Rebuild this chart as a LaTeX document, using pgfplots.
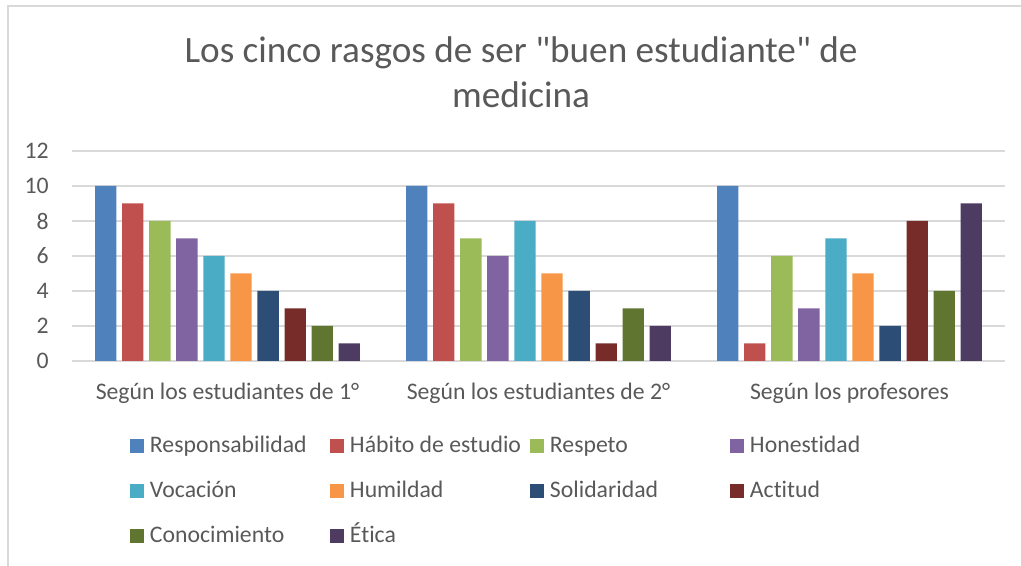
\documentclass[border=0pt]{standalone}
\usepackage{fontspec}
\setmainfont{Carlito}[Ligatures=NoCommon]
\newfontfamily\titlefont{Carlito}[Ligatures={TeXOff,NoCommon}]
\usepackage{pgfplots}
\pgfplotsset{compat=1.18}
\definecolor{txt}{HTML}{595959}
\definecolor{gridc}{HTML}{D9D9D9}
\definecolor{c1}{HTML}{4F81BD}
\definecolor{c2}{HTML}{C0504D}
\definecolor{c3}{HTML}{9BBB59}
\definecolor{c4}{HTML}{8064A2}
\definecolor{c5}{HTML}{4BACC6}
\definecolor{c6}{HTML}{F79646}
\definecolor{c7}{HTML}{2C4D75}
\definecolor{c8}{HTML}{772C2A}
\definecolor{c9}{HTML}{5F7530}
\definecolor{c10}{HTML}{4D3B62}
\pgfplotsset{ybar legend/.style={legend image code/.code={\fill[##1,draw=none] (0pt,-9pt) rectangle (10.5pt,1.5pt); \path (15pt,0pt);}}}
\newcommand{\lgent}[1]{\makebox[135pt][l]{\rule[-6pt]{0pt}{24pt}#1}}
\begin{document}
\begin{tikzpicture}
\useasboundingbox (-54pt,-153.75pt) rectangle (711.75pt,270.75pt);
\draw[gridc, line width=1.5pt] (-48pt,-160pt) -- (-48pt,266.25pt) -- (720pt,266.25pt);
\begin{axis}[
  at={(0,0)}, anchor=south west,
  scale only axis, width=699.75pt, height=157.5pt,
  xmin=-0.5, xmax=2.5, ymin=0, ymax=12,
  ytick={0,2,...,12}, xtick={0,1,2},
  xticklabels={Según los estudiantes de 1°, Según los estudiantes de 2°, Según los profesores},
  major tick length=0pt,
  ymajorgrids, grid style={gridc, line width=1pt},
  axis x line*=bottom, axis y line*=left,
  x axis line style={gridc, line width=1pt, -},
  y axis line style={draw=none},
  /pgf/number format/assume math mode=true,
  tick label style={font=\fontsize{17.8}{20}\selectfont, text=txt, inner sep=0pt},
  yticklabel style={anchor=east, xshift=-17.25pt},
  xticklabel style={anchor=base, yshift=-29.25pt},
  ybar, bar width=16pt,
  legend columns=4,
  legend cell align=left,
  legend style={draw=none, fill=none, inner sep=0pt, outer sep=0pt, column sep=0pt, row sep=14.25pt,
    font=\fontsize{17.8}{20}\selectfont, text=txt,
    at={(axis description cs:0.06217,-0.3195)}, anchor=north west, nodes={inner sep=0pt}},
]
\addplot[fill=c1, draw=none, bar shift=-91.35pt] coordinates {(0,10) (1,10) (2,10)};
\addlegendentry{\lgent{Responsabilidad}}
\addplot[fill=c2, draw=none, bar shift=-71.05pt] coordinates {(0,9) (1,9) (2,1)};
\addlegendentry{\lgent{Hábito de estudio}}
\addplot[fill=c3, draw=none, bar shift=-50.75pt] coordinates {(0,8) (1,7) (2,6)};
\addlegendentry{\lgent{Respeto}}
\addplot[fill=c4, draw=none, bar shift=-30.45pt] coordinates {(0,7) (1,6) (2,3)};
\addlegendentry{\lgent{Honestidad}}
\addplot[fill=c5, draw=none, bar shift=-10.15pt] coordinates {(0,6) (1,8) (2,7)};
\addlegendentry{\lgent{Vocación}}
\addplot[fill=c6, draw=none, bar shift=10.15pt] coordinates {(0,5) (1,5) (2,5)};
\addlegendentry{\lgent{Humildad}}
\addplot[fill=c7, draw=none, bar shift=30.45pt] coordinates {(0,4) (1,4) (2,2)};
\addlegendentry{\lgent{Solidaridad}}
\addplot[fill=c8, draw=none, bar shift=50.75pt] coordinates {(0,3) (1,1) (2,8)};
\addlegendentry{\lgent{Actitud}}
\addplot[fill=c9, draw=none, bar shift=71.05pt] coordinates {(0,2) (1,3) (2,4)};
\addlegendentry{\lgent{Conocimiento}}
\addplot[fill=c10, draw=none, bar shift=91.35pt] coordinates {(0,1) (1,2) (2,9)};
\addlegendentry{\lgent{Ética}}
\end{axis}
\node[anchor=base, text=txt, font=\titlefont\fontsize{27.9}{33.75}\selectfont, inner sep=0pt] at (336.75pt,223.5pt) {Los cinco rasgos de ser "buen estudiante" de};
\node[anchor=base, text=txt, font=\titlefont\fontsize{27.9}{33.75}\selectfont, inner sep=0pt] at (336.75pt,189.75pt) {medicina};
\end{tikzpicture}
\end{document}
